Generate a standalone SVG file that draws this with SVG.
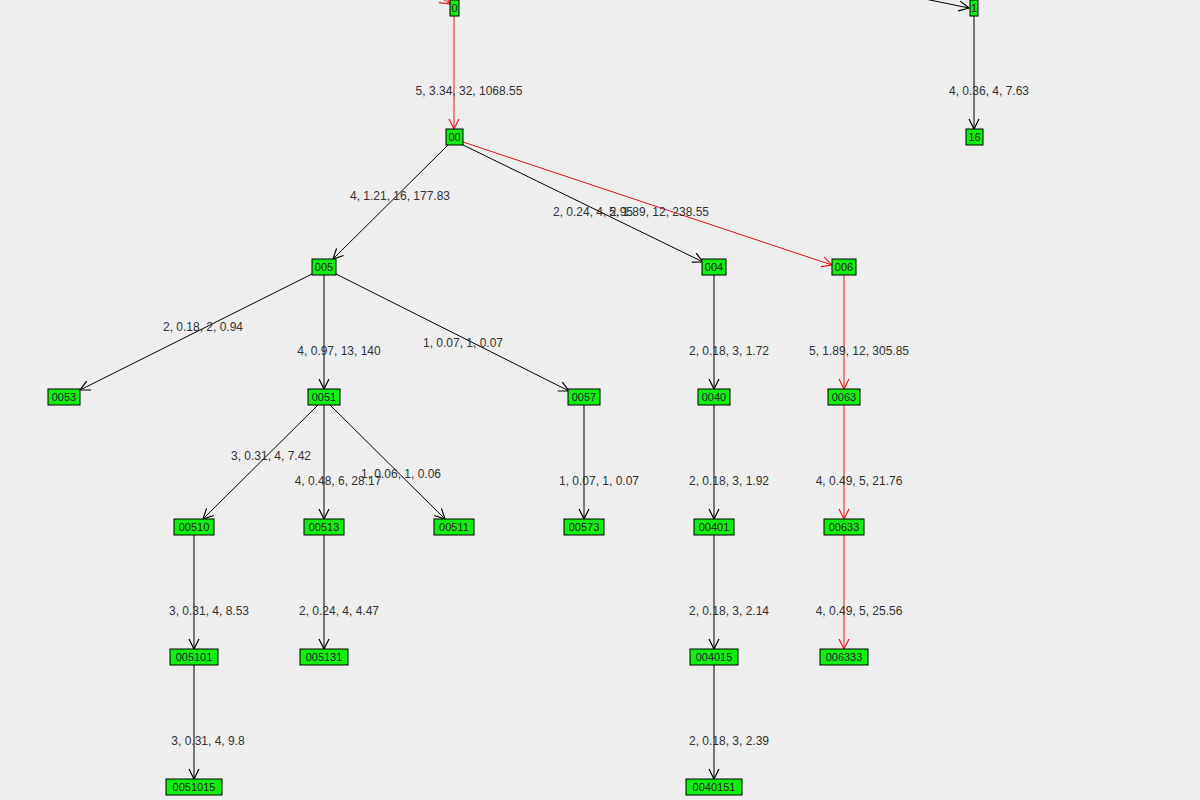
<svg xmlns="http://www.w3.org/2000/svg" width="1200" height="800" viewBox="0 0 1200 800">
<defs>
<marker id="ab" viewBox="0 0 12 12" refX="11" refY="6" markerWidth="12" markerHeight="12" markerUnits="userSpaceOnUse" orient="auto"><path d="M1,1 L11,6 L1,11" fill="none" stroke="#000" stroke-width="1.2"/></marker>
<marker id="ar" viewBox="0 0 12 12" refX="11" refY="6" markerWidth="12" markerHeight="12" markerUnits="userSpaceOnUse" orient="auto"><path d="M1,1 L11,6 L1,11" fill="none" stroke="#e31a1c" stroke-width="1.2"/></marker>
<style>
.n rect{fill:#11ee11;stroke:#000;stroke-width:1}
.n text{font-family:"Liberation Sans",Arial,sans-serif;font-size:11px;fill:#222;text-anchor:middle}
.e line{stroke:#000;stroke-width:1;marker-end:url(#ab)}
.e line.r{stroke:#e31a1c;marker-end:url(#ar)}
.l{font-family:"Liberation Sans",Arial,sans-serif;font-size:12px;fill:#333;text-anchor:middle}
</style>
</defs>
<rect width="1200" height="800" fill="#eeeeee"/>
<g id="connectors" class="e">
<line class="r" x1="438" y1="-4" x2="450" y2="4"/>
<line x1="920" y1="-2" x2="969" y2="8"/>
<line class="r" x1="454" y1="16" x2="454" y2="129"/>
<line x1="974" y1="16" x2="974" y2="129"/>
<line x1="448" y1="145" x2="333" y2="259"/>
<line x1="461" y1="144" x2="703" y2="262"/>
<line class="r" x1="463" y1="142" x2="832" y2="265"/>
<line x1="312" y1="274" x2="80" y2="390"/>
<line x1="324" y1="275" x2="324" y2="389"/>
<line x1="336" y1="274" x2="569" y2="391"/>
<line x1="714" y1="275" x2="714" y2="389"/>
<line class="r" x1="844" y1="275" x2="844" y2="389"/>
<line x1="318" y1="405" x2="203" y2="519"/>
<line x1="324" y1="405" x2="324" y2="519"/>
<line x1="330" y1="405" x2="445" y2="519"/>
<line x1="584" y1="405" x2="584" y2="519"/>
<line x1="714" y1="405" x2="714" y2="519"/>
<line class="r" x1="844" y1="405" x2="844" y2="519"/>
<line x1="194" y1="535" x2="194" y2="649"/>
<line x1="324" y1="535" x2="324" y2="649"/>
<line x1="714" y1="535" x2="714" y2="649"/>
<line class="r" x1="844" y1="535" x2="844" y2="649"/>
<line x1="194" y1="665" x2="194" y2="779"/>
<line x1="714" y1="665" x2="714" y2="779"/>
</g>
<g id="labels">
<text class="l" x="469" y="95">5, 3.34, 32, 1068.55</text>
<text class="l" x="989" y="95">4, 0.36, 4, 7.63</text>
<text class="l" x="400" y="200">4, 1.21, 16, 177.83</text>
<text class="l" x="593" y="216">2, 0.24, 4, 2.95</text>
<text class="l" x="659" y="216">5, 1.89, 12, 238.55</text>
<text class="l" x="203" y="331">2, 0.18, 2, 0.94</text>
<text class="l" x="339" y="355">4, 0.97, 13, 140</text>
<text class="l" x="463" y="347">1, 0.07, 1, 0.07</text>
<text class="l" x="729" y="355">2, 0.18, 3, 1.72</text>
<text class="l" x="859" y="355">5, 1.89, 12, 305.85</text>
<text class="l" x="271" y="460">3, 0.31, 4, 7.42</text>
<text class="l" x="338" y="485">4, 0.48, 6, 28.17</text>
<text class="l" x="401" y="478">1, 0.06, 1, 0.06</text>
<text class="l" x="599" y="485">1, 0.07, 1, 0.07</text>
<text class="l" x="729" y="485">2, 0.18, 3, 1.92</text>
<text class="l" x="859" y="485">4, 0.49, 5, 21.76</text>
<text class="l" x="209" y="615">3, 0.31, 4, 8.53</text>
<text class="l" x="339" y="615">2, 0.24, 4, 4.47</text>
<text class="l" x="729" y="615">2, 0.18, 3, 2.14</text>
<text class="l" x="859" y="615">4, 0.49, 5, 25.56</text>
<text class="l" x="208" y="745">3, 0.31, 4, 9.8</text>
<text class="l" x="729" y="745">2, 0.18, 3, 2.39</text>
</g>
<g id="n0" class="n"><rect x="450" y="0" width="9" height="16"/><text x="454.5" y="12">0</text></g>
<g id="n1" class="n"><rect x="970" y="0" width="8" height="16"/><text x="974" y="12">1</text></g>
<g id="n00" class="n"><rect x="446" y="129" width="17" height="16"/><text x="454.5" y="141">00</text></g>
<g id="n16" class="n"><rect x="966" y="129" width="17" height="16"/><text x="974.5" y="141">16</text></g>
<g id="n005" class="n"><rect x="312" y="259" width="24" height="16"/><text x="324" y="271">005</text></g>
<g id="n004" class="n"><rect x="702" y="259" width="24" height="16"/><text x="714" y="271">004</text></g>
<g id="n006" class="n"><rect x="832" y="259" width="24" height="16"/><text x="844" y="271">006</text></g>
<g id="n0053" class="n"><rect x="48" y="389" width="32" height="16"/><text x="64" y="401">0053</text></g>
<g id="n0051" class="n"><rect x="308" y="389" width="32" height="16"/><text x="324" y="401">0051</text></g>
<g id="n0057" class="n"><rect x="568" y="389" width="32" height="16"/><text x="584" y="401">0057</text></g>
<g id="n0040" class="n"><rect x="698" y="389" width="32" height="16"/><text x="714" y="401">0040</text></g>
<g id="n0063" class="n"><rect x="828" y="389" width="32" height="16"/><text x="844" y="401">0063</text></g>
<g id="n00510" class="n"><rect x="174" y="519" width="40" height="16"/><text x="194" y="531">00510</text></g>
<g id="n00513" class="n"><rect x="304" y="519" width="40" height="16"/><text x="324" y="531">00513</text></g>
<g id="n00511" class="n"><rect x="434" y="519" width="40" height="16"/><text x="454" y="531">00511</text></g>
<g id="n00573" class="n"><rect x="564" y="519" width="40" height="16"/><text x="584" y="531">00573</text></g>
<g id="n00401" class="n"><rect x="694" y="519" width="40" height="16"/><text x="714" y="531">00401</text></g>
<g id="n00633" class="n"><rect x="824" y="519" width="40" height="16"/><text x="844" y="531">00633</text></g>
<g id="n005101" class="n"><rect x="170" y="649" width="48" height="16"/><text x="194" y="661">005101</text></g>
<g id="n005131" class="n"><rect x="300" y="649" width="48" height="16"/><text x="324" y="661">005131</text></g>
<g id="n004015" class="n"><rect x="690" y="649" width="48" height="16"/><text x="714" y="661">004015</text></g>
<g id="n006333" class="n"><rect x="820" y="649" width="48" height="16"/><text x="844" y="661">006333</text></g>
<g id="n0051015" class="n"><rect x="166" y="779" width="56" height="16"/><text x="194" y="791">0051015</text></g>
<g id="n0040151" class="n"><rect x="686" y="779" width="56" height="16"/><text x="714" y="791">0040151</text></g>
</svg>
